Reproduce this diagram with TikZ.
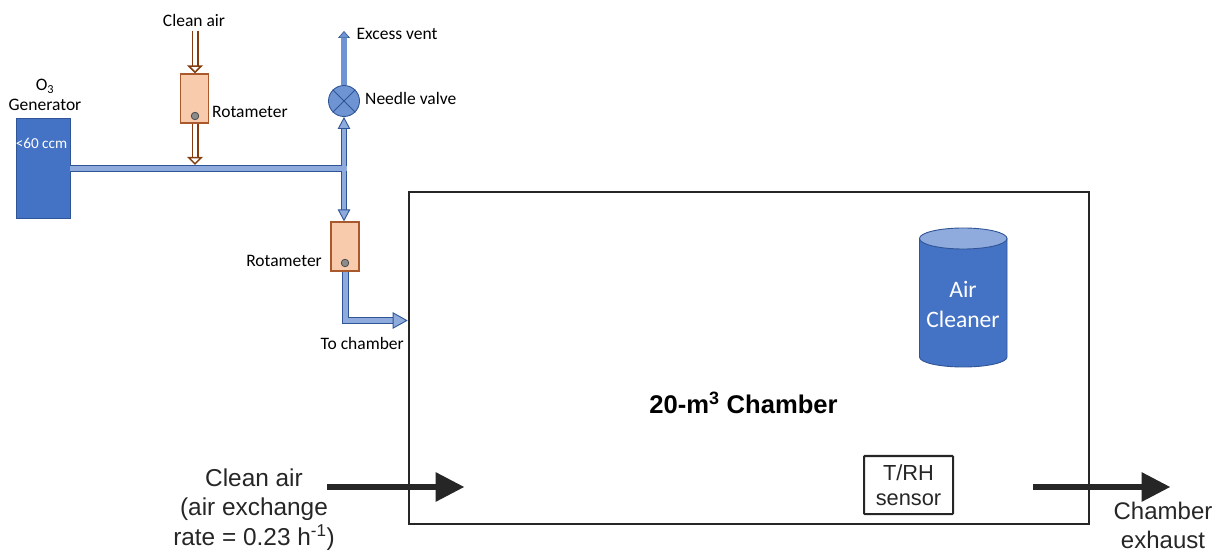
\documentclass[tikz,border=0pt]{standalone}
\usepackage{fontspec}
\setmainfont{Carlito}
\newfontfamily\arialfont{Liberation Sans}
\usetikzlibrary{arrows.meta,shapes.geometric}
\definecolor{brownline}{HTML}{843C0C}
\definecolor{rotafill}{HTML}{F8CBAD}
\definecolor{rotaline}{HTML}{A9592B}
\definecolor{pipefill}{HTML}{8FAADC}
\definecolor{pipeline}{HTML}{2F5597}
\definecolor{mainblue}{HTML}{4472C4}
\definecolor{valveblue}{HTML}{6F94D3}
\definecolor{ink}{HTML}{262626}
\tikzset{
  x=1bp,y=-1bp,
  lab/.style={font=\fontsize{17.5bp}{20bp}\selectfont,text=black,inner sep=0pt,align=center},
  biglab/.style={font=\arialfont\fontsize{24.4bp}{29.5bp}\selectfont,text=ink,inner sep=0pt,align=center},
  rota/.style={draw=rotaline,fill=rotafill,line width=1.2bp,minimum width=28bp,minimum height=49bp,inner sep=0pt},
  ball/.style={circle,draw=black!70,fill=black!45,line width=.8bp,minimum size=7.5bp,inner sep=0pt},
  brownarrow/.style={draw=brownline,line width=1.5bp,double=white,double distance=4bp,
    -{Triangle[length=8bp,width=15.5bp,line width=1.5bp,fill=white]}},
  bluepipe/.style={draw=pipeline,line width=.9bp,double=pipefill,double distance=4.6bp},
  bluearrow/.style={draw=pipeline,line width=.9bp,double=pipefill,double distance=5.6bp,-{Triangle[length=15bp,width=16.5bp,line width=.9bp,fill=pipefill]}},
  bluedouble/.style={bluepipe,{Triangle[length=12bp,width=12.5bp,line width=.9bp,fill=pipefill]}-{Triangle[length=12bp,width=12.5bp,line width=.9bp,fill=pipefill]}},
  ventarrow/.style={draw=valveblue,line width=6bp,-{Triangle[length=7bp,width=12bp,fill=valveblue,color=pipeline,line width=.6bp]}},
  bigarrow/.style={draw=ink,line width=6.3bp,-{Triangle[length=29bp,width=28bp,fill=ink]}},
}
\begin{document}
\begin{tikzpicture}
\useasboundingbox (0,0) rectangle (1225,553);
% chamber
\node[draw=ink,line width=2.6bp,minimum width=680bp,minimum height=332bp,inner sep=0pt] (chamber) at (749,358) {};
\node[font=\arialfont\bfseries\fontsize{25.6bp}{29bp}\selectfont,text=black,inner sep=0pt] (chlabel) at (743.5,403) {20-m\textsuperscript{3} Chamber};
% air cleaner
\path[draw=pipeline,line width=.9bp,fill=mainblue] (919.5,238.5) -- (919.5,357) arc[start angle=180,end angle=360,x radius=43.75bp,y radius=10bp] -- (1007,238.5) -- cycle;
\node[draw=pipeline,line width=.9bp,fill=pipefill,ellipse,minimum width=87.5bp,minimum height=21bp,inner sep=0pt] (cleanertop) at (963.25,238.5) {};
\node[font=\fontsize{23.6bp}{30bp}\selectfont,text=white,inner sep=0pt,align=center] (cleaner) at (963,304) {Air\\Cleaner};
% sensor
\node[draw=ink,line width=2bp,rounded corners=.8bp,minimum width=89bp,minimum height=58bp,inner sep=0pt,font=\arialfont\fontsize{21.8bp}{25.5bp}\selectfont,text=ink,align=center] (sensor) at (908.5,485) {T/RH\\sensor};
% big arrows
\coordinate (cin) at (327,487);
\coordinate (cintip) at (464.5,487);
\coordinate (cout) at (1033,487);
\coordinate (couttip) at (1170.5,487);
\draw[bigarrow] (cin) -- (cintip);
\draw[bigarrow] (cout) -- (couttip);
\node[biglab] (cinlab) at (254,509.5) {Clean air\\(air exchange\\rate = 0.23 h\textsuperscript{-1})};
\node[biglab,font=\arialfont\fontsize{24bp}{29bp}\selectfont] (coutlab) at (1163,525.5) {Chamber\\exhaust};
% generator
\node[draw=pipeline,line width=.8bp,fill=mainblue,minimum width=54bp,minimum height=100bp,inner sep=0pt] (gen) at (43,168) {};
\node[lab,font=\fontsize{15.2bp}{18bp}\selectfont,text=white] (gentext) at (41.5,143.5) {<60 ccm};
\node[lab] (genlab) at (45,95) {O\textsubscript{3}\\Generator};
% rotameter 1
\node[rota] (rotA) at (194.5,98.5) {};
\node[ball] (ballA) at (195,116) {};
\coordinate (airin) at (195,31);
\node[lab] (airlab) at (194,20) {Clean air};
\node[lab,anchor=west] (rotAlab) at (212,112) {Rotameter};
% pipes
\coordinate (genout) at (70,168.5);
\coordinate (junction) at (344,168.5);
\node[circle,draw=pipeline,fill=valveblue,line width=.9bp,minimum size=31bp,inner sep=0pt] (valvebody) at (344,101) {};
\draw[pipeline,line width=.9bp] (valvebody.45) -- (valvebody.225) (valvebody.135) -- (valvebody.315);
\coordinate (vent) at (344,31);
\node[rota] (rotB) at (345,246.5) {};
\node[ball] (ballB) at (345,263) {};
\coordinate (corner) at (345.3,320.5);
\coordinate (tochamber) at (chamber.west |- corner);
\draw[bluepipe] (genout) -- (junction);
\draw[bluedouble] (valvebody.south) -- (valvebody.south |- rotB.north);
\fill[pipefill] (339,166) rectangle (346.5,171);
\draw[ventarrow] (valvebody.north) -- (vent);
\draw[bluearrow] (corner |- rotB.south) -- (corner) -- (tochamber);
\coordinate (airout) at (195,165);
\draw[brownarrow] (airin) -- (airin |- rotA.north);
\draw[brownarrow] (airin |- rotA.south) -- (airout);
\node[lab,anchor=west] (ventlab) at (356.5,34) {Excess vent};
\node[lab,anchor=west] (valvelab) at (365,98.5) {Needle valve};
\node[lab,anchor=east] (rotBlab) at (322,261) {Rotameter};
\node[lab,anchor=east] (tolab) at (404,343.5) {To chamber};
\end{tikzpicture}
\end{document}
